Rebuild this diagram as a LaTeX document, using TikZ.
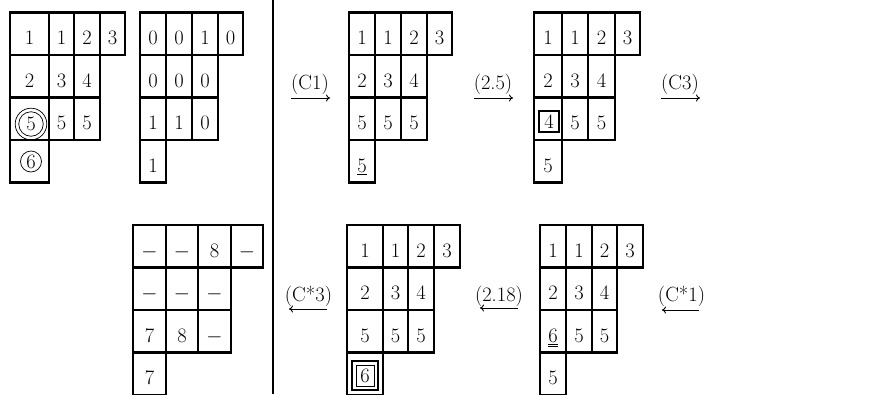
\documentclass[tikz,border=0pt]{standalone}
\usetikzlibrary{arrows.meta}
\tikzset{
  grid/.style={line width=2.7pt, line cap=rect},
  cell/.style={anchor=base, inner sep=0pt, font=\fontsize{20.5}{24}\selectfont},
  lab/.style={anchor=base, inner sep=0pt, font=\fontsize{20.5}{24}\selectfont},
  arr/.style={line width=0.9pt, -{To[length=4pt,width=7pt]}},
  sep/.style={line width=1.8pt}
}
% Young diagram of shape (4,3,3,1): x0..x4, top y
\newcommand\ytab[6]{%
  \draw[grid] (#1,#6) -- (#5,#6)
    (#1,#6+42.5) -- (#5,#6+42.5)
    (#1,#6+85) -- (#4,#6+85)
    (#1,#6+127.5) -- (#4,#6+127.5)
    (#1,#6+170) -- (#2,#6+170)
    (#1,#6) -- (#1,#6+170)
    (#2,#6) -- (#2,#6+170)
    (#3,#6) -- (#3,#6+127.5)
    (#4,#6) -- (#4,#6+127.5)
    (#5,#6) -- (#5,#6+42.5);}
\newcommand\cel[4]{\node[cell] (#1) at (#2,#3) {#4};}
\begin{document}
\begin{tikzpicture}[x=1pt,y=-1pt]
\useasboundingbox (0,0) rectangle (893,394);
% separator
\coordinate (st) at (273,0);
\coordinate (sb) at (273,394);
\draw[sep] (st) -- (sb);
% top row tableaux
\ytab{10}{49}{74}{100}{125}{12.5}
\ytab{140}{166}{192}{218}{243}{12.5}
\ytab{349}{375}{401}{427}{452}{12.5}
\ytab{534}{562}{588}{615}{640}{12.5}
% bottom row tableaux
\ytab{133}{166}{198}{231}{263}{225}
\ytab{347}{383}{408}{434}{460}{225}
\ytab{540}{566}{592}{617}{643}{225}
% T1
\cel{a11}{29.5}{44.5}{1}\cel{a12}{61.5}{44.5}{1}\cel{a13}{87}{44.5}{2}\cel{a14}{112.5}{44.5}{3}
\cel{a21}{29.5}{87}{2}\cel{a22}{61.5}{87}{3}\cel{a23}{87}{87}{4}
\node[cell,anchor=center,circle,draw,line width=0.7pt,minimum size=24.5pt,inner sep=0pt] (a31) at (31,124) {5};
\draw[line width=0.7pt] (a31.center) circle[radius=15.8pt];
\cel{a32}{61.5}{129.5}{5}\cel{a33}{87}{129.5}{5}
\node[cell,anchor=center,circle,draw,line width=0.7pt,minimum size=21pt,inner sep=0pt] (a41) at (31,161.5) {6};
% T2
\cel{b11}{153}{44.5}{0}\cel{b12}{179}{44.5}{0}\cel{b13}{205}{44.5}{1}\cel{b14}{230.5}{44.5}{0}
\cel{b21}{153}{87}{0}\cel{b22}{179}{87}{0}\cel{b23}{205}{87}{0}
\cel{b31}{153}{129.5}{1}\cel{b32}{179}{129.5}{1}\cel{b33}{205}{129.5}{0}
\cel{b41}{153}{172}{1}
% T3
\cel{c11}{362}{44.5}{1}\cel{c12}{388}{44.5}{1}\cel{c13}{414}{44.5}{2}\cel{c14}{439.5}{44.5}{3}
\cel{c21}{362}{87}{2}\cel{c22}{388}{87}{3}\cel{c23}{414}{87}{4}
\cel{c31}{362}{129.5}{5}\cel{c32}{388}{129.5}{5}\cel{c33}{414}{129.5}{5}
\cel{c41}{362}{172}{\underline{5}}
% T4
\cel{d11}{548}{44.5}{1}\cel{d12}{575}{44.5}{1}\cel{d13}{601.5}{44.5}{2}\cel{d14}{627.5}{44.5}{3}
\cel{d21}{548}{87}{2}\cel{d22}{575}{87}{3}\cel{d23}{601.5}{87}{4}
\node[cell,anchor=center,draw,line width=1.4pt,minimum width=20pt,minimum height=21pt] (d31) at (549,121.5) {4};
\cel{d32}{575}{129.5}{5}\cel{d33}{601.5}{129.5}{5}
\cel{d41}{548}{172}{5}
% T5
\cel{e11}{149.5}{257}{$-$}\cel{e12}{182}{257}{$-$}\cel{e13}{214.5}{257}{8}\cel{e14}{247}{257}{$-$}
\cel{e21}{149.5}{299.5}{$-$}\cel{e22}{182}{299.5}{$-$}\cel{e23}{214.5}{299.5}{$-$}
\cel{e31}{149.5}{342}{7}\cel{e32}{182}{342}{8}\cel{e33}{214.5}{342}{$-$}
\cel{e41}{149.5}{384.5}{7}
% T6
\cel{f11}{365}{257}{1}\cel{f12}{395.5}{257}{1}\cel{f13}{421}{257}{2}\cel{f14}{447}{257}{3}
\cel{f21}{365}{299.5}{2}\cel{f22}{395.5}{299.5}{3}\cel{f23}{421}{299.5}{4}
\cel{f31}{365}{342}{5}\cel{f32}{395.5}{342}{5}\cel{f33}{421}{342}{5}
\node[cell,anchor=center,draw,line width=1pt,minimum width=18pt,minimum height=21pt] (f41) at (365,375.5) {6};
\draw[line width=1.5pt] ([shift={(-3.5pt,3.5pt)}]f41.north west) rectangle ([shift={(3.5pt,-3.5pt)}]f41.south east);
% T7
\cel{g11}{553}{257}{1}\cel{g12}{579}{257}{1}\cel{g13}{604.5}{257}{2}\cel{g14}{630}{257}{3}
\cel{g21}{553}{299.5}{2}\cel{g22}{579}{299.5}{3}\cel{g23}{604.5}{299.5}{4}
\cel{g31}{553}{342}{\underline{\underline{6}}}\cel{g32}{579}{342}{5}\cel{g33}{604.5}{342}{5}
\cel{g41}{553}{384.5}{5}
% labels with arrows
\node[lab] (l1) at (310,89) {(C1)};
\coordinate (l1a) at (291,98); \coordinate (l1b) at (330,98);
\draw[arr] (l1a) -- (l1b);
\node[lab] (l2) at (493,89) {(2.5)};
\coordinate (l2a) at (474,98); \coordinate (l2b) at (513,98);
\draw[arr] (l2a) -- (l2b);
\node[lab] (l3) at (680,89) {(C3)};
\coordinate (l3a) at (661,98); \coordinate (l3b) at (700,98);
\draw[arr] (l3a) -- (l3b);
\node[lab] (l4) at (308.5,301) {(C*3)};
\coordinate (l4a) at (327,309); \coordinate (l4b) at (289,309);
\draw[arr] (l4a) -- (l4b);
\node[lab] (l5) at (499,301) {(2.18)};
\coordinate (l5a) at (518,308); \coordinate (l5b) at (480,308);
\draw[arr] (l5a) -- (l5b);
\node[lab] (l6) at (681.5,301) {(C*1)};
\coordinate (l6a) at (699,310); \coordinate (l6b) at (662,310);
\draw[arr] (l6a) -- (l6b);
\end{tikzpicture}
\end{document}
